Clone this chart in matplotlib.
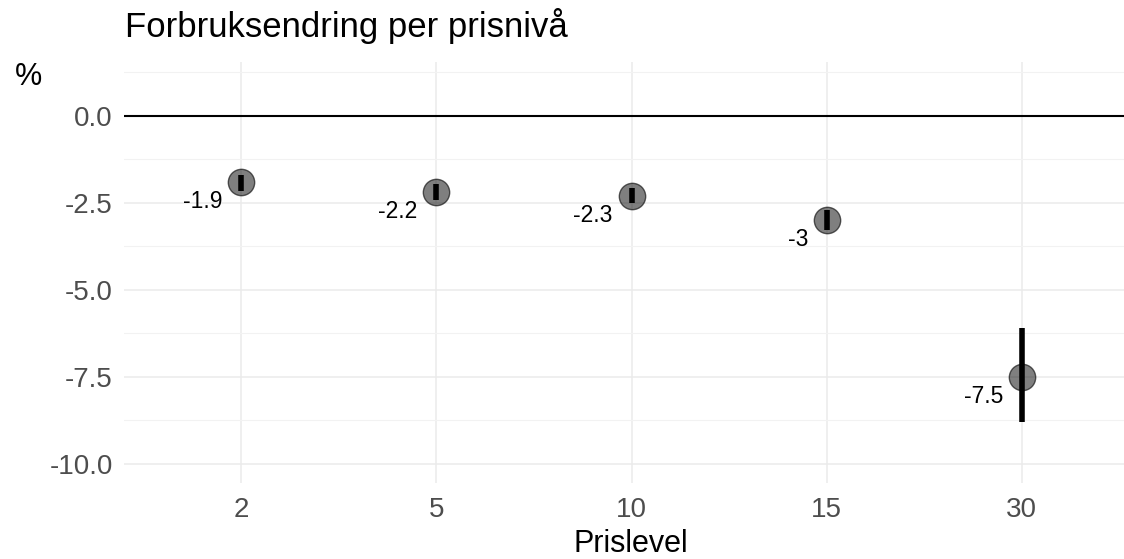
# Forbruksendring per prisnivå - punkt med feilstolper

import numpy as np
import matplotlib.pyplot as plt
from matplotlib.ticker import MultipleLocator

plt.rcParams['font.family'] = ['Liberation Sans', 'DejaVu Sans']

# Data
pris_levels = ['2', '5', '10', '15', '30']
endring = [-1.9, -2.2, -2.3, -3.0, -7.5]
label_text = ['-1.9', '-2.2', '-2.3', '-3', '-7.5']
nedre = [-2.17, -2.43, -2.50, -3.27, -8.80]
ovre = [-1.69, -1.97, -2.07, -2.69, -6.10]
y_ticks = [0.0, -2.5, -5.0, -7.5, -10.0]

fig = plt.figure(figsize=(11.24, 5.59), dpi=100)
ax = fig.add_axes([124/1124, 76/559, 1015/1124, 421/559])

x = np.arange(len(pris_levels))

# Grid
ax.set_axisbelow(True)
ax.yaxis.set_minor_locator(MultipleLocator(1.25))
ax.grid(which='major', color='#ebebeb', linewidth=1.1)
ax.grid(which='minor', axis='y', color='#f2f2f2', linewidth=0.8)

# Zero line
ax.axhline(0, color='black', linewidth=1.5, zorder=2)

# Error bars
ax.vlines(x, nedre, ovre, color='black', linewidth=4, zorder=3)

# Points
ax.plot(x, endring, 'o', markersize=19, markerfacecolor=(0, 0, 0, 0.5),
        markeredgecolor=(0, 0, 0, 0.6), markeredgewidth=1, linestyle='none', zorder=4)

# Value labels
for xi, yi, txt in zip(x, endring, label_text):
    ax.annotate(txt, (xi, yi), xytext=(-13.5, -18.5), textcoords='offset points',
                ha='right', va='baseline', fontsize=16.5, color='black', zorder=5)

ax.set_xlim(-0.6, 4.6)
ax.set_ylim(-10.55, 1.55)
ax.set_xticks(x)
ax.set_xticklabels(pris_levels)
ax.set_yticks(y_ticks)
ax.set_yticklabels([f'{v:.1f}' for v in y_ticks])
ax.tick_params(which='both', length=0, labelsize=20, labelcolor='#4d4d4d')
ax.tick_params(axis='y', pad=8)
ax.tick_params(axis='x', pad=10)

for s in ax.spines.values():
    s.set_visible(False)

fig.text(125/1124, 522/559, 'Forbruksendring per prisnivå', fontsize=25,
         ha='left', va='baseline')
fig.text(15/1124, 474/559, '%', fontsize=22, ha='left', va='baseline')
fig.text(631/1124, 7/559, 'Prislevel', fontsize=22, ha='center', va='baseline')

plt.savefig('out.png', dpi=100)
